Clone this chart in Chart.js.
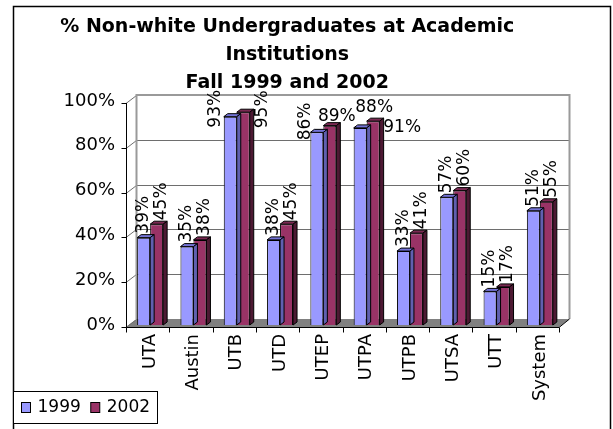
<!DOCTYPE html>
<html>
<head>
<meta charset="utf-8">
<script src="https://cdn.jsdelivr.net/npm/chart.js@4.4.1/dist/chart.umd.min.js"></script>
<style>
  html, body { margin: 0; padding: 0; background: #fff; }
  #wrap { position: relative; width: 613px; height: 429px; }
</style>
</head>
<body>
<div id="wrap"><canvas id="chart" width="613" height="429"></canvas></div>
<script>
var institutions = ['UTA', 'Austin', 'UTB', 'UTD', 'UTEP', 'UTPA', 'UTPB', 'UTSA', 'UTT', 'System'];
var fall1999 = [39, 35, 93, 38, 86, 88, 33, 57, 15, 51];
var fall2002 = [45, 38, 95, 45, 89, 91, 41, 60, 17, 55];
var yTicks = [0, 20, 40, 60, 80, 100];

// fake 3d: front plane, back wall and bar depth, relative to the bar plane
var FRONT = { dx: -2.5, dy: 2 };
var BACK = { dx: 8, dy: -6 };
var DEPTH = { dx: 4, dy: 3 };
var topColors = ['#7373d6', '#7a2952'];
var sideColors = ['#6060b0', '#4d1933'];

// labels Excel moved to avoid overlaps: [dataset, index, dx, dy, horizontal]
var labelMoves = [
  [0, 2, -15, 11, false],
  [1, 2, 19, 16, false],
  [0, 4, -11, 8, false],
  [1, 4, 7, -9, true],
  [0, 5, 14, -20, true],
  [1, 5, 29, 6, true]
];

var FONT = 'DejaVu Sans';

function line(ctx, x1, y1, x2, y2) {
  ctx.beginPath();
  ctx.moveTo(x1, y1);
  ctx.lineTo(x2, y2);
  ctx.stroke();
}

var framePlugin = {
  id: 'frame',
  beforeDraw: function(chart) {
    var ctx = chart.ctx;
    ctx.save();
    ctx.fillStyle = '#fff';
    ctx.fillRect(0, 0, chart.width, chart.height);
    ctx.strokeStyle = '#000';
    ctx.lineWidth = 1.5;
    ctx.strokeRect(13.5, 6.5, 597, 460);
    ctx.restore();
  }
};

// legend sits in the bottom-left corner, over the x-axis box
var legendPlugin = {
  id: 'cornerLegend',
  afterDraw: function(chart) {
    var ctx = chart.ctx;
    ctx.save();
    ctx.strokeStyle = '#000';
    ctx.lineWidth = 1;
    ctx.fillStyle = '#fff';
    ctx.fillRect(13.5, 391.5, 144, 32);
    ctx.strokeRect(13.5, 391.5, 144, 32);
    ctx.font = '17px "' + FONT + '"';
    ctx.textBaseline = 'middle';
    var x = 21.5;
    chart.data.datasets.forEach(function(ds) {
      ctx.fillStyle = ds.backgroundColor;
      ctx.fillRect(x, 402.5, 9, 10);
      ctx.strokeRect(x, 402.5, 9, 10);
      ctx.fillStyle = '#000';
      ctx.fillText(ds.label, x + 16, 408);
      x += 16 + ctx.measureText(ds.label).width + 10;
    });
    ctx.restore();
  }
};

var wallsPlugin = {
  id: 'walls',
  beforeDatasetsDraw: function(chart) {
    var ctx = chart.ctx, a = chart.chartArea;
    var ys = chart.scales.y, xs = chart.scales.x;
    var fl = a.left + FRONT.dx, fr = a.right + FRONT.dx;
    var bl = a.left + BACK.dx, br = a.right + BACK.dx;
    var y0 = ys.getPixelForValue(0), y100 = ys.getPixelForValue(100);

    ctx.save();
    // floor
    ctx.fillStyle = '#808080';
    ctx.beginPath();
    ctx.moveTo(fl, y0 + FRONT.dy);
    ctx.lineTo(fr, y0 + FRONT.dy);
    ctx.lineTo(br, y0 + BACK.dy);
    ctx.lineTo(bl, y0 + BACK.dy);
    ctx.closePath();
    ctx.fill();

    // gridlines on back wall and side wall
    ctx.strokeStyle = '#6e6e6e';
    ctx.lineWidth = 1;
    yTicks.forEach(function(v) {
      var py = Math.round(ys.getPixelForValue(v)) + 0.5;
      if (v > 0 && v < 100) line(ctx, bl, py + BACK.dy, br, py + BACK.dy);
      line(ctx, fl, py + FRONT.dy, bl, py + BACK.dy);
    });

    // wall edges
    ctx.strokeStyle = '#9a9a9a';
    ctx.lineWidth = 2;
    ctx.beginPath();
    ctx.moveTo(bl, y0 + BACK.dy);
    ctx.lineTo(bl, y100 + BACK.dy);
    ctx.lineTo(br, y100 + BACK.dy);
    ctx.lineTo(br, y0 + BACK.dy);
    ctx.stroke();

    // front axes and tick marks
    ctx.strokeStyle = '#000';
    ctx.lineWidth = 1;
    var fx = Math.round(fl) + 0.5;
    var fy = Math.round(y0 + FRONT.dy) + 0.5;
    line(ctx, fx, y100 + FRONT.dy, fx, fy);
    yTicks.forEach(function(v) {
      var py = Math.round(ys.getPixelForValue(v) + FRONT.dy) + 0.5;
      line(ctx, fx - 5, py, fx, py);
    });
    line(ctx, fx, fy, fr, fy);
    line(ctx, fr, fy, br, y0 + BACK.dy);
    var step = xs.getPixelForValue(1) - xs.getPixelForValue(0);
    for (var i = 0; i <= institutions.length; i++) {
      var px = Math.round(xs.getPixelForValue(i) - step / 2 + FRONT.dx) + 0.5;
      line(ctx, px, fy, px, fy + 5);
    }
    ctx.restore();
  }
};

var barDepthPlugin = {
  id: 'barDepth',
  afterDatasetDraw: function(chart, args) {
    var ctx = chart.ctx, k = args.index;
    ctx.save();
    ctx.strokeStyle = '#000';
    ctx.lineWidth = 1;
    args.meta.data.forEach(function(bar) {
      var p = bar.getProps(['x', 'y', 'base', 'width'], true);
      var l = p.x - p.width / 2, r = p.x + p.width / 2, t = p.y, b = p.base;
      ctx.fillStyle = topColors[k];
      ctx.beginPath();
      ctx.moveTo(l, t);
      ctx.lineTo(l + DEPTH.dx, t - DEPTH.dy);
      ctx.lineTo(r + DEPTH.dx, t - DEPTH.dy);
      ctx.lineTo(r, t);
      ctx.closePath();
      ctx.fill();
      ctx.stroke();
      ctx.fillStyle = sideColors[k];
      ctx.beginPath();
      ctx.moveTo(r, t);
      ctx.lineTo(r + DEPTH.dx, t - DEPTH.dy);
      ctx.lineTo(r + DEPTH.dx, b - DEPTH.dy);
      ctx.lineTo(r, b);
      ctx.closePath();
      ctx.fill();
      ctx.stroke();
    });
    ctx.restore();
  }
};

var valueLabelPlugin = {
  id: 'valueLabels',
  afterDatasetsDraw: function(chart) {
    var ctx = chart.ctx;
    ctx.save();
    ctx.font = '17px "' + FONT + '"';
    ctx.fillStyle = '#000';
    chart.data.datasets.forEach(function(ds, k) {
      chart.getDatasetMeta(k).data.forEach(function(bar, i) {
        var move = labelMoves.filter(function(m) { return m[0] === k && m[1] === i; })[0];
        var text = ds.data[i] + '%';
        ctx.save();
        if (move && move[4]) {
          ctx.textAlign = 'center';
          ctx.textBaseline = 'middle';
          ctx.fillText(text, bar.x + move[2], bar.y + move[3]);
        } else {
          var dx = move ? move[2] : (k === 1 ? 5 : 0);
          var dy = move ? move[3] : -4;
          ctx.translate(bar.x + dx, bar.y + dy);
          ctx.rotate(-Math.PI / 2);
          ctx.textAlign = 'left';
          ctx.textBaseline = 'middle';
          ctx.fillText(text, 0, 0);
        }
        ctx.restore();
      });
    });
    ctx.restore();
  }
};

new Chart(document.getElementById('chart'), {
  type: 'bar',
  data: {
    labels: institutions,
    datasets: [{
      label: '1999',
      data: fall1999,
      backgroundColor: '#9999ff',
      borderColor: '#000',
      borderWidth: 1,
      categoryPercentage: 0.6,
      barPercentage: 1
    }, {
      label: '2002',
      data: fall2002,
      backgroundColor: '#993366',
      borderColor: '#000',
      borderWidth: 1,
      categoryPercentage: 0.6,
      barPercentage: 1
    }]
  },
  options: {
    responsive: false,
    animation: false,
    devicePixelRatio: 1,
    layout: {
      padding: { left: 13, right: 51.5, top: 0, bottom: 3 }
    },
    plugins: {
      title: {
        display: true,
        text: ['% Non-white Undergraduates at Academic', 'Institutions', 'Fall 1999 and 2002'],
        color: '#000',
        font: { family: FONT, size: 19, weight: 'bold', lineHeight: 28 / 19 },
        padding: { top: 13, bottom: 4 }
      },
      legend: { display: false },
      tooltip: { enabled: false }
    },
    scales: {
      x: {
        grid: { display: false, drawTicks: false },
        border: { display: false },
        ticks: {
          autoSkip: false,
          maxRotation: 90,
          minRotation: 90,
          padding: 9,
          color: '#000',
          font: { family: FONT, size: 18 }
        },
        afterFit: function(s) { s.height = 101; }
      },
      y: {
        min: 0,
        max: 100,
        grid: { display: false, drawTicks: false },
        border: { display: false },
        ticks: {
          stepSize: 20,
          padding: 13.5,
          color: '#000',
          font: { family: FONT, size: 18 },
          callback: function(v) { return v + '%'; }
        },
        afterFit: function(s) { s.width = 115.5; }
      }
    }
  },
  plugins: [framePlugin, wallsPlugin, barDepthPlugin, valueLabelPlugin, legendPlugin]
});
</script>
</body>
</html>
